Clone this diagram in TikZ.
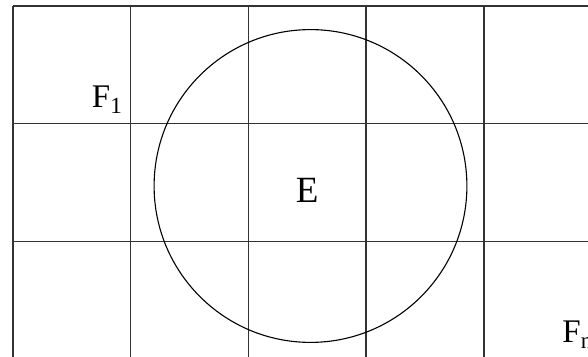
\documentclass[tikz,border=0pt]{standalone}
\usepackage{fontspec}
\setmainfont{Liberation Serif}

\begin{document}
\begin{tikzpicture}[
    x=0.5pt, y=-0.5pt,
    every node/.style={font=\fontsize{16.5}{20}\selectfont, inner sep=0pt},
    % grid of cells
    gridline/.style={draw=black!80, line width=0.7pt},
    % the set E
    region/.style={draw=black, line width=0.55pt},
    cell label/.style={anchor=base west}
]
\useasboundingbox (0,0) rectangle (588,357);
\clip (0,0) rectangle (588,357);

% --- Grid ---
\foreach \gx in {13,130.7,248.4,366.1,483.8}
  \draw[gridline] (\gx,6) -- (\gx,357);
\foreach \gy in {6,123.7,241.4}
  \draw[gridline] (13,\gy) -- (588,\gy);

% --- Set E ---
\draw[region] (310.5,186) circle[radius=78.2pt];
\node[cell label, font=\fontsize{18.5}{22}\selectfont] (setE) at (295.5,203) {E};

% --- Cells ---
\node[cell label] (firstcell) at (91.5,108) {F\textsubscript{1}};
\node[cell label] (lastcell) at (562,343) {F\textsubscript{n}};

\end{tikzpicture}
\end{document}
